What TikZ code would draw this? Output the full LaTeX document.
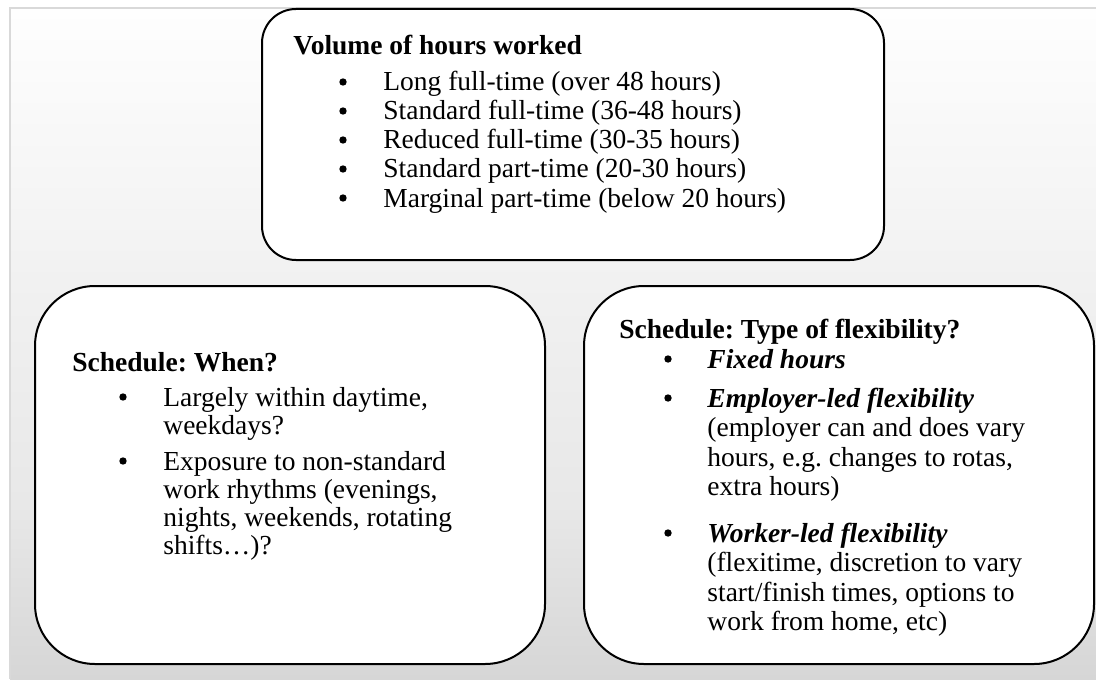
\documentclass[tikz,border=0pt]{standalone}
\usepackage{fontspec}
\setmainfont{Liberation Serif}
\frenchspacing
\definecolor{framegray}{HTML}{D9D9D9}
\definecolor{bgA}{HTML}{FEFEFE}
\definecolor{bgB}{HTML}{F0F0F0}
\definecolor{bgC}{HTML}{E8E8E8}
\definecolor{bgD}{HTML}{D6D6D6}
\pgfdeclareverticalshading{bgshade}{100bp}{color(0bp)=(bgD); color(25bp)=(bgD); color(38bp)=(bgC); color(53bp)=(bgB); color(75bp)=(bgA); color(100bp)=(bgA)}
\tikzset{
  box/.style={draw=black, line width=1pt, fill=white, inner sep=0pt, outer sep=0pt, anchor=north west},
  txt/.style={anchor=base west, inner sep=0pt, font=\fontsize{13.75}{14.25}\selectfont\frenchspacing},
  txtb/.style={anchor=base west, inner sep=0pt, font=\fontsize{13.75}{14.25}\selectfont\bfseries\frenchspacing},
  txtbi/.style={anchor=base west, inner sep=0pt, font=\fontsize{13.75}{14.25}\selectfont\bfseries\itshape\frenchspacing},
  bul/.style={circle, fill=black, inner sep=0pt, minimum size=3.7pt},
}
\begin{document}
\begin{tikzpicture}[x=0.5pt,y=-0.5pt]
\useasboundingbox (0,0) rectangle (1096,679);
\fill[white] (0,0) rectangle (1096,679);
\shade[shading=bgshade] (10,8) rectangle (1096,679);
\draw[framegray, line width=1pt] (10,679) -- (10,8) -- (1096,8);

% boxes
\node[box, rounded corners=17pt, minimum width=311pt, minimum height=125.5pt] (vol) at (262,9) {};
\node[box, rounded corners=30pt, minimum width=255pt, minimum height=189pt] (when) at (35,286) {};
\node[box, rounded corners=30pt, minimum width=255pt, minimum height=189pt] (flex) at (584,286) {};

% top box text
\node[txtb] (volT) at (293,55) {Volume of hours worked};
\foreach \y/\t [count=\i] in {91/Long full-time (over 48 hours),120/Standard full-time (36-48 hours),149/Reduced full-time (30-35 hours),178/Standard part-time (20-30 hours),207/Marginal part-time (below 20 hours)}{
  \node[bul] (volB\i) at (343,\y-9) {};
  \node[txt] (volI\i) at (383,\y) {\t};
}

% left box text
\node[txtb] (whenT) at (72,371) {Schedule: When?};
\node[bul] (whenB1) at (123,397) {};
\node[txt] (whenL1) at (163,406) {Largely within daytime,};
\node[txt] (whenL2) at (163,434) {weekdays?};
\node[bul] (whenB2) at (123,461) {};
\node[txt] (whenL3) at (163,470) {Exposure to non-standard};
\node[txt] (whenL4) at (163,498) {work rhythms (evenings,};
\node[txt] (whenL5) at (163,526) {nights, weekends, rotating};
\node[txt] (whenL6) at (163,554) {shifts…)?};

% right box text
\node[txtb] (flexT) at (619,338) {Schedule: Type of flexibility?};
\node[bul] (flexB1) at (668,359) {};
\node[txtbi] (flexL1) at (707,368) {Fixed hours};
\node[bul] (flexB2) at (668,398) {};
\node[txtbi] (flexL2) at (707,407) {Employer-led flexibility};
\node[txt] (flexL3) at (707,436.5) {(employer can and does vary};
\node[txt] (flexL4) at (707,466) {hours, e.g. changes to rotas,};
\node[txt] (flexL5) at (707,495.5) {extra hours)};
\node[bul] (flexB3) at (668,533) {};
\node[txtbi] (flexL6) at (707,542) {Worker-led flexibility};
\node[txt] (flexL7) at (707,571.5) {(flexitime, discretion to vary};
\node[txt] (flexL8) at (707,601) {start/finish times, options to};
\node[txt] (flexL9) at (707,630.5) {work from home, etc)};
\end{tikzpicture}
\end{document}
